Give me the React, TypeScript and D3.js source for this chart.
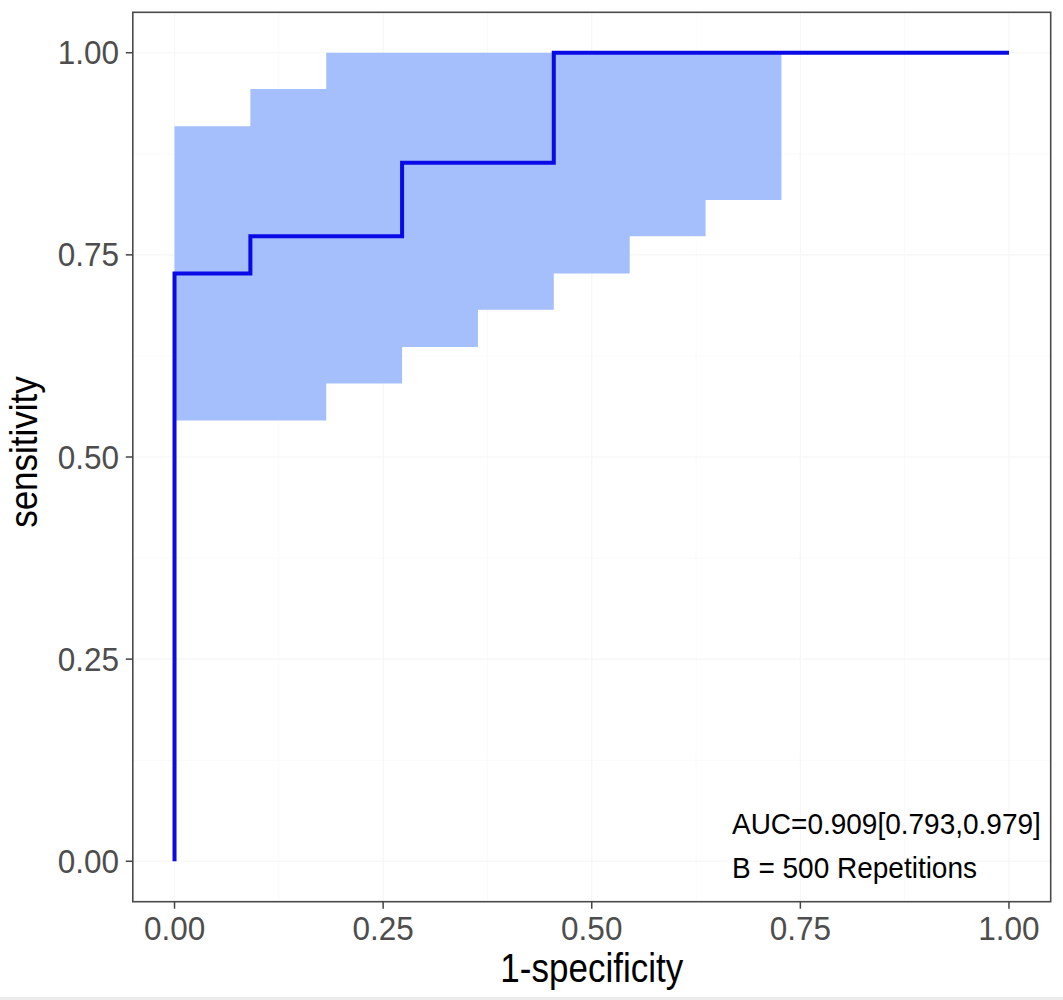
import React from "react";
import * as d3 from "d3";

// ROC curve (1-specificity, sensitivity) as step points
const rocX = [0, 0, 0.0909, 0.0909, 0.2727, 0.2727, 0.4545, 0.4545, 1.0];
const rocY = [0, 0.727, 0.727, 0.773, 0.773, 0.864, 0.864, 1.0, 1.0];

// Confidence band (step after each breakpoint)
const ciX = [0, 0.0909, 0.1818, 0.2727, 0.3636, 0.4545, 0.5455, 0.6364, 0.7273];
const ciUpper = [0.909, 0.955, 1, 1, 1, 1, 1, 1, 1];
const ciLower = [0.545, 0.545, 0.591, 0.636, 0.682, 0.727, 0.773, 0.818, 0.818];

const ticks = [0, 0.25, 0.5, 0.75, 1.0];
const minorTicks = [0.125, 0.375, 0.625, 0.875];
const tickLabels = ["0.00", "0.25", "0.50", "0.75", "1.00"];

const annotation = ["AUC=0.909[0.793,0.979]", "B = 500 Repetitions"];
const xTitle = "1-specificity";
const yTitle = "sensitivity";

const W = 1063;
const H = 1000;
const panel = { left: 132.8, right: 1050.7, top: 12.3, bottom: 901.7 };
const font = "'Liberation Sans', Arial, Helvetica, sans-serif";

export default function App() {
  const x = d3.scaleLinear().domain([-0.05, 1.05]).range([panel.left, panel.right]);
  const y = d3.scaleLinear().domain([-0.05, 1.05]).range([panel.bottom, panel.top]);

  const bandData = ciX.map((v, i) => ({ x: v, lo: ciLower[i], hi: ciUpper[i] }));
  const area = d3
    .area<{ x: number; lo: number; hi: number }>()
    .x((d) => x(d.x))
    .y0((d) => y(d.lo))
    .y1((d) => y(d.hi))
    .curve(d3.curveStepAfter);

  const rocData = rocX.map((v, i) => [v, rocY[i]] as [number, number]);
  const line = d3
    .line<[number, number]>()
    .x((d) => x(d[0]))
    .y((d) => y(d[1]));

  return (
    <svg
      width={W}
      height={H}
      style={{ position: "absolute", left: 0, top: 0, background: "#fff" }}
      fontFamily={font}
    >
      <rect x={0} y={0} width={W} height={H} fill="#fff" />
      {/* grid */}
      {minorTicks.map((t) => (
        <g key={"mn" + t}>
          <line x1={x(t)} x2={x(t)} y1={panel.top} y2={panel.bottom} stroke="#fafafa" strokeWidth={1} />
          <line y1={y(t)} y2={y(t)} x1={panel.left} x2={panel.right} stroke="#fafafa" strokeWidth={1} />
        </g>
      ))}
      {ticks.map((t) => (
        <g key={"mj" + t}>
          <line x1={x(t)} x2={x(t)} y1={panel.top} y2={panel.bottom} stroke="#f6f6f6" strokeWidth={1.2} />
          <line y1={y(t)} y2={y(t)} x1={panel.left} x2={panel.right} stroke="#f6f6f6" strokeWidth={1.2} />
        </g>
      ))}
      {/* band */}
      <path d={area(bandData) || ""} fill="#a4bffb" stroke="none" />
      {/* ROC line */}
      <path
        d={line(rocData) || ""}
        fill="none"
        stroke="#0a0ae6"
        strokeWidth={4}
        strokeLinejoin="miter"
        strokeLinecap="butt"
      />
      {/* panel border */}
      <rect
        x={panel.left}
        y={panel.top}
        width={panel.right - panel.left}
        height={panel.bottom - panel.top}
        fill="none"
        stroke="#4a4a4a"
        strokeWidth={1.6}
      />
      {/* x ticks */}
      {ticks.map((t, i) => (
        <g key={"xt" + t}>
          <line x1={x(t)} x2={x(t)} y1={panel.bottom} y2={panel.bottom + 7} stroke="#444" strokeWidth={1.5} />
          <text
            transform={`translate(${x(t)}, 940) scale(1, 1.04)`}
            textAnchor="middle"
            fontSize={31.5}
            fill="#4d4d4d"
          >
            {tickLabels[i]}
          </text>
        </g>
      ))}
      {/* y ticks */}
      {ticks.map((t, i) => (
        <g key={"yt" + t}>
          <line x1={panel.left - 7} x2={panel.left} y1={y(t)} y2={y(t)} stroke="#444" strokeWidth={1.5} />
          <text
            transform={`translate(119, ${y(t) + 11.5}) scale(1, 1.04)`}
            textAnchor="end"
            fontSize={31.5}
            fill="#4d4d4d"
          >
            {tickLabels[i]}
          </text>
        </g>
      ))}
      {/* axis titles */}
      <text
        transform={`translate(${(panel.left + panel.right) / 2}, 982) scale(1, 1.15)`}
        textAnchor="middle"
        fontSize={35}
        fill="#000"
      >
        {xTitle}
      </text>
      <text
        transform={`translate(37, ${(panel.top + panel.bottom) / 2 - 5}) rotate(-90) scale(1, 1.1)`}
        textAnchor="middle"
        fontSize={35}
        fill="#000"
      >
        {yTitle}
      </text>
      {/* annotation */}
      {annotation.map((s, i) => (
        <text
          key={s}
          transform={`translate(732, ${834 + i * 44}) scale(1, 1.05)`}
          fontSize={28}
          fill="#000"
        >
          {s}
        </text>
      ))}
      {/* bottom strip */}
      <rect x={0} y={997} width={W} height={3} fill="#ececec" />
    </svg>
  );
}
